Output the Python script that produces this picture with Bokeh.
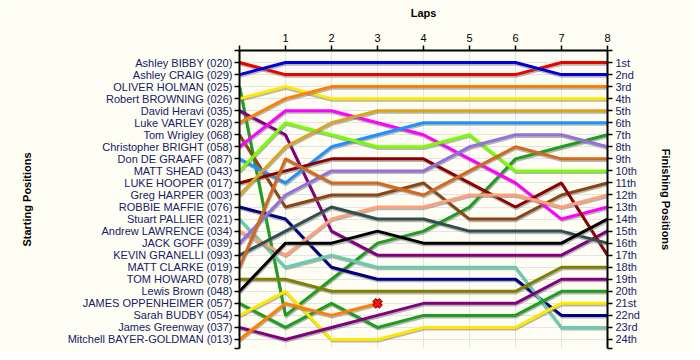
from bokeh.plotting import figure
from bokeh.models import Range1d, LinearAxis, FixedTicker
from bokeh.embed import file_html
from bokeh.resources import INLINE

drivers = ["Ashley BIBBY (020)", "Ashley CRAIG (029)", "OLIVER HOLMAN (025)", "Robert BROWNING (026)",
           "David Heravi (035)", "Luke VARLEY (028)", "Tom Wrigley (068)", "Christopher BRIGHT (058)",
           "Don DE GRAAFF (087)", "MATT SHEAD (043)", "LUKE HOOPER (017)", "Greg HARPER (003)",
           "ROBBIE MAFFIE (076)", "Stuart PALLIER (021)", "Andrew LAWRENCE (034)", "JACK GOFF (039)",
           "KEVIN GRANELLI (093)", "MATT CLARKE (019)", "TOM HOWARD (078)", "Lewis Brown (048)",
           "JAMES OPPENHEIMER (057)", "Sarah BUDBY (054)", "James Greenway (037)",
           "Mitchell BAYER-GOLDMAN (013)"]

colors = ["#ee0000", "#0000dd", "#1e9e1e", "#ffe800", "#800080", "#ff8000", "#8b4513", "#ff00ff",
          "#1e90ff", "#7cfc00", "#8b0000", "#daa520", "#000080", "#66cdaa", "#ffa07a", "#9370db",
          "#2f4f4f", "#d2691e", "#808000", "#000000", "#1e9e1e", "#ffe800", "#800080", "#ff8000"]

finish_labels = ["1st", "2nd", "3rd", "4th", "5th", "6th", "7th", "8th", "9th", "10th", "11th", "12th",
                 "13th", "14th", "15th", "16th", "17th", "18th", "19th", "20th", "21st", "22nd", "23rd", "24th"]

lap_numbers = [0, 1, 2, 3, 4, 5, 6, 7, 8]

# position of each driver (in starting order) after each lap; None = retired
lap0 = [1, 2, 3, 4, 5, 6, 7, 8, 9, 10, 11, 12, 13, 14, 15, 16, 17, 18, 19, 20, 21, 22, 23, 24]
lap1 = [2, 1, 22, 3, 7, 4, 13, 5, 11, 6, 10, 8, 14, 18, 17, 12, 15, 9, 19, 16, 23, 20, 24, 21]
lap2 = [2, 1, 19, 4, 15, 3, 12, 5, 8, 7, 9, 6, 18, 17, 14, 10, 13, 11, 20, 16, 21, 24, 23, 22]
lap3 = [2, 1, 16, 4, 17, 3, 12, 6, 7, 8, 9, 5, 19, 18, 13, 10, 14, 11, 20, 15, 23, 24, 22, 21]
lap4 = [2, 1, 15, 4, 17, 3, 11, 7, 6, 8, 9, 5, 19, 18, 13, 10, 14, 12, 20, 16, 22, 23, 21, None]
lap5 = [2, 1, 13, 4, 17, 3, 14, 9, 6, 7, 11, 5, 19, 18, 12, 8, 15, 10, 20, 16, 22, 23, 21, None]
lap6 = [2, 1, 9, 4, 17, 3, 14, 11, 6, 10, 13, 5, 19, 18, 12, 7, 15, 8, 20, 16, 22, 23, 21, None]
lap7 = [1, 2, 8, 4, 17, 3, 12, 14, 6, 10, 11, 5, 22, 23, 13, 7, 15, 9, 18, 16, 20, 21, 19, None]
lap8 = [1, 2, 7, 4, 15, 3, 11, 13, 6, 10, 17, 5, 22, 23, 12, 8, 16, 9, 18, 14, 20, 21, 19, None]
laps = [lap0, lap1, lap2, lap3, lap4, lap5, lap6, lap7, lap8]

BG = "#fffef4"
TXT = "#14206a"
FONT = "Liberation Sans"

p = figure(width=692, height=352, output_backend="svg", toolbar_location=None,
           x_range=Range1d(0, 8), y_range=Range1d(24.75, 0),
           x_axis_location="above", y_axis_location="left",
           min_border_left=239, min_border_right=85, min_border_top=50, min_border_bottom=4,
           background_fill_color=BG, border_fill_color=BG, outline_line_color=None)

def style_axis(ax):
    ax.axis_line_color = "black"
    ax.axis_line_width = 2
    ax.major_tick_line_color = "black"
    ax.major_tick_line_width = 1.5
    ax.major_tick_in = 0
    ax.major_tick_out = 5
    ax.minor_tick_line_color = None
    ax.major_label_text_font = FONT
    ax.major_label_text_font_size = "11px"
    ax.major_label_text_color = TXT
    ax.axis_label_text_font = FONT
    ax.axis_label_text_font_size = "11px"
    ax.axis_label_text_font_style = "bold"
    ax.axis_label_text_color = "black"

xa = p.xaxis[0]
style_axis(xa)
xa.ticker = FixedTicker(ticks=lap_numbers)
xa.major_label_overrides = {0: ""}
xa.axis_label = "Laps"
xa.major_label_standoff = 4
xa.axis_label_standoff = 12
xa.major_label_text_color = "black"

ya = p.yaxis[0]
style_axis(ya)
ya.ticker = FixedTicker(ticks=[0] + lap0 + [24.75])
ov = {0: "", 24.75: ""}
for i, n in enumerate(drivers):
    ov[i + 1] = n
ya.major_label_overrides = ov
ya.axis_label = "Starting Positions"
ya.major_label_standoff = 2
ya.axis_label_standoff = 32

ra = LinearAxis()
style_axis(ra)
ra.ticker = FixedTicker(ticks=[0] + lap0 + [24.75])
ov2 = {0: "", 24.75: ""}
for i, n in enumerate(finish_labels):
    ov2[i + 1] = n
ra.major_label_overrides = ov2
ra.axis_label = "Finishing Positions"
ra.major_label_standoff = 3
ra.axis_label_standoff = 17
p.add_layout(ra, "right")

p.xgrid.ticker = FixedTicker(ticks=lap_numbers[1:-1])
p.ygrid.ticker = FixedTicker(ticks=lap0)
p.xgrid.grid_line_color = "#e4e4e4"
p.ygrid.grid_line_color = "#e4e4e4"
p.xgrid.grid_line_width = 1
p.ygrid.grid_line_width = 1

dx = 0.6 / 46.0
dy = 1.6 / 12.0
for i in range(len(drivers)):
    xs = [l for l, lp in zip(lap_numbers, laps) if lp[i] is not None]
    ys = [lp[i] for lp in laps if lp[i] is not None]
    p.line([x + dx for x in xs], [y + dy for y in ys], line_color="#7a7a7a", line_alpha=0.55, line_width=3)
    p.line(xs, ys, line_color=colors[i], line_width=3)
    if len(xs) < len(lap_numbers):
        p.scatter([xs[-1]], [ys[-1]], marker="x", size=10, line_color="#7a0000", line_width=5)
        p.scatter([xs[-1]], [ys[-1]], marker="x", size=10, line_color="#ff1010", line_width=3)

open("out.html", "w").write(file_html(p, INLINE))
